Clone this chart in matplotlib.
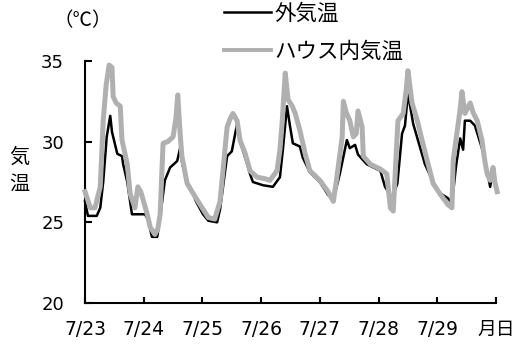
import matplotlib
matplotlib.use("Agg")
import matplotlib.pyplot as plt
from matplotlib.lines import Line2D

# ---- data (days since 7/23 0:00, temperature in deg C) ----
house_day = [0.00, 0.09, 0.17, 0.26, 0.31, 0.36, 0.41, 0.46, 0.48, 0.53, 0.60, 0.63, 0.72, 0.77,
             0.85, 0.90, 0.95, 1.06, 1.11, 1.19, 1.24, 1.28, 1.31, 1.33, 1.41, 1.50, 1.55, 1.58,
             1.62, 1.65, 1.74, 1.84, 1.96, 2.10, 2.21, 2.30, 2.35, 2.42, 2.47, 2.52, 2.59, 2.64,
             2.73, 2.81, 2.93, 3.07, 3.15, 3.27, 3.32, 3.36, 3.41, 3.46, 3.53, 3.58, 3.66, 3.75,
             3.83, 4.00, 4.14, 4.23, 4.29, 4.38, 4.40, 4.45, 4.51, 4.57, 4.62, 4.65, 4.72, 4.74,
             4.86, 5.03, 5.14, 5.20, 5.25, 5.28, 5.33, 5.42, 5.47, 5.50, 5.57, 5.66, 5.74, 5.83,
             5.93, 6.05, 6.18, 6.25, 6.27, 6.34, 6.39, 6.42, 6.47, 6.56, 6.61, 6.68, 6.76, 6.81,
             6.85, 6.90, 6.95, 6.98, 7.02]
house_temp = [26.9, 25.9, 25.9, 27.2, 31.3, 33.5, 34.75, 34.6, 32.8, 32.4, 32.2, 30.1, 28.6, 26.75,
              25.9, 27.2, 26.9, 25.5, 24.7, 24.25, 24.6, 25.5, 28.2, 29.9, 30.0, 30.3, 31.5, 32.9,
              30.5, 29.1, 27.4, 26.8, 26.1, 25.3, 25.2, 26.3, 28.2, 30.9, 31.4, 31.75, 31.3, 30.1,
              29.25, 28.2, 27.8, 27.7, 27.6, 28.2, 29.5, 31.3, 34.25, 32.6, 32.2, 31.75, 30.7, 29.25,
              28.2, 27.6, 26.9, 26.3, 27.8, 30.3, 32.5, 31.8, 31.3, 30.3, 30.5, 31.9, 30.9, 29.1,
              28.6, 28.3, 28.0, 25.9, 25.7, 27.8, 31.3, 31.75, 33.2, 34.4, 32.4, 31.3, 30.1, 28.8,
              27.4, 26.75, 26.1, 25.9, 28.8, 30.7, 32.0, 33.1, 31.75, 32.4, 31.8, 31.3, 30.1, 28.8,
              28.0, 27.6, 28.4, 27.5, 26.9]

out_day = [0.00, 0.05, 0.20, 0.26, 0.31, 0.37, 0.43, 0.46, 0.55, 0.63, 0.65, 0.72, 0.80, 0.94,
           1.02, 1.07, 1.14, 1.23, 1.28, 1.36, 1.45, 1.57, 1.62, 1.65, 1.72, 1.79, 1.89, 2.01,
           2.10, 2.25, 2.30, 2.42, 2.50, 2.59, 2.64, 2.73, 2.81, 2.86, 3.03, 3.20, 3.32, 3.37,
           3.44, 3.49, 3.54, 3.66, 3.71, 3.83, 4.00, 4.14, 4.23, 4.34, 4.46, 4.51, 4.60, 4.65,
           4.80, 5.03, 5.11, 5.23, 5.32, 5.40, 5.45, 5.50, 5.59, 5.67, 5.79, 5.93, 6.05, 6.18,
           6.25, 6.32, 6.39, 6.44, 6.47, 6.56, 6.64, 6.76, 6.85, 6.90, 6.93, 7.00]
out_temp = [26.3, 25.4, 25.4, 25.9, 27.5, 30.3, 31.6, 30.6, 29.25, 29.1, 28.6, 27.5, 25.5, 25.5,
            25.5, 25.2, 24.1, 24.1, 25.3, 27.6, 28.4, 28.8, 29.6, 28.8, 27.6, 27.2, 26.3, 25.5,
            25.1, 25.0, 25.8, 29.1, 29.4, 31.1, 30.0, 29.0, 28.0, 27.5, 27.3, 27.2, 27.8, 29.5,
            32.2, 31.0, 29.9, 29.7, 29.0, 28.1, 27.5, 26.7, 26.4, 28.0, 30.1, 29.6, 29.8, 29.2,
            28.6, 28.2, 27.2, 26.5, 27.4, 30.5, 31.0, 33.0, 31.1, 30.1, 28.6, 27.5, 26.8, 26.5,
            26.2, 28.5, 30.2, 29.5, 31.3, 31.3, 31.0, 29.6, 28.2, 27.2, 27.8, 27.3]

tick_days = [0, 1, 2, 3, 4, 5, 6, 7]
tick_labels = ["7/23", "7/24", "7/25", "7/26", "7/27", "7/28", "7/29", "月日"]
y_ticks = [20, 25, 30, 35]
series_names = ["外気温", "ハウス内気温"]

plt.rcParams['font.family'] = ['DejaVu Sans', 'Noto Sans CJK JP']
CJK = ['Noto Sans CJK JP', 'DejaVu Sans']

fig = plt.figure(figsize=(5.27, 3.45), dpi=100)
ax = fig.add_axes([85/527, 1-303/345, (496-85)/527, (303-61)/345])

gray = '#b0b0b0'
l_out, = ax.plot(out_day, out_temp, color='black', lw=1.8, zorder=2, clip_on=False)
l_in, = ax.plot(house_day, house_temp, color=gray, lw=3.6, zorder=3, clip_on=False)

ax.set_xlim(0, 7)
ax.set_ylim(20, 35)
ax.set_xticks(tick_days)
ax.set_xticklabels(tick_labels)
for lab in ax.get_xticklabels():
    lab.set_family(['DejaVu Sans', 'Noto Sans CJK JP'])
ax.set_yticks(y_ticks)

for s in ['top', 'right']:
    ax.spines[s].set_visible(False)
for s in ['left', 'bottom']:
    ax.spines[s].set_linewidth(1.5)

ax.tick_params(axis='x', direction='in', length=4, width=1.5, labelsize=13.5, pad=12)
ax.tick_params(axis='y', direction='in', length=5, width=1.5, labelsize=13, pad=15)

fig.text(19/527, 1-171/345, "気\n温", family=CJK, fontsize=14.5, ha='center', va='center',
         linespacing=1.35)
fig.text(83/527, 1-21/345, "（℃）", family=CJK, fontsize=14, ha='center', va='center')

leg = fig.legend([l_out, Line2D([], [], color=gray, lw=2.8)], series_names,
                 loc='upper left', bbox_to_anchor=(224/527, 1-3/345),
                 frameon=False, prop={'family': CJK, 'size': 15.5},
                 handlelength=2.2, handletextpad=0.15, labelspacing=0.72,
                 borderpad=0, borderaxespad=0)

fig.savefig("out.png", dpi=100)
